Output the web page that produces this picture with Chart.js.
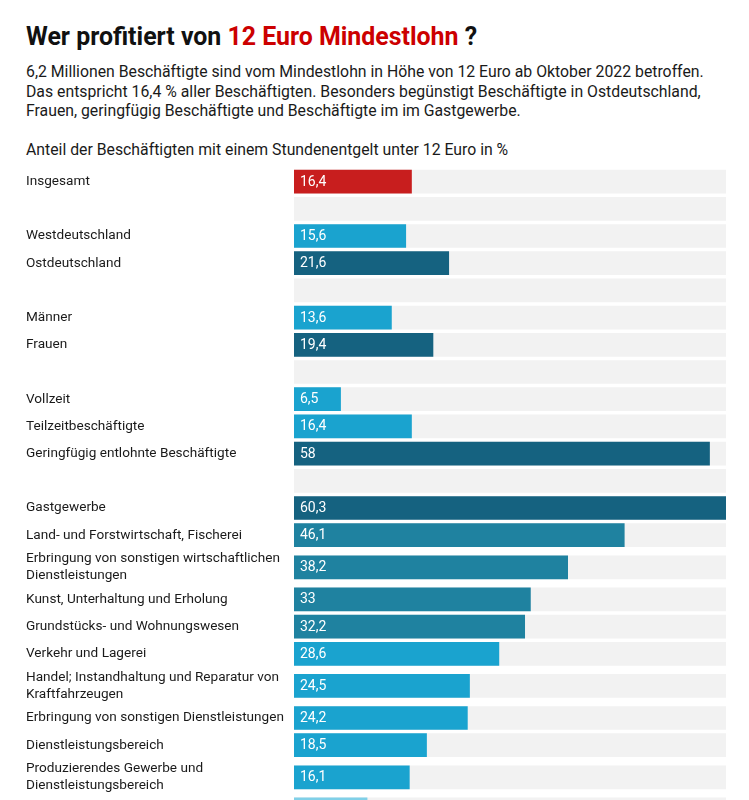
<!DOCTYPE html>
<html lang="de">
<head>
<meta charset="utf-8">
<script src="https://cdn.jsdelivr.net/npm/chart.js@4/dist/chart.umd.min.js"></script>
<style>
  html, body { margin: 0; padding: 0; background: #fff; overflow: hidden; }
  body { width: 749px; height: 800px; position: relative; font-family: Roboto, "Noto Sans", sans-serif; color: #1a1a1a; }
  #title { position: absolute; left: 26px; top: 23px; font-size: 24.9px; line-height: 28px; font-weight: 700; color: #111; white-space: nowrap; }
  #title .red { color: #cc0000; }
  #sub { position: absolute; left: 26px; top: 62px; width: 715px; font-size: 15.8px; line-height: 19.5px; color: #1a1a1a; }
  #axis { position: absolute; left: 26px; top: 140px; font-size: 15.8px; line-height: 20px; color: #1a1a1a; white-space: nowrap; }
  #wrap { position: absolute; left: 26px; top: 168px; width: 700px; }
</style>
</head>
<body>
<div id="title">Wer profitiert von <span class="red">12 Euro Mindestlohn</span> ?</div>
<div id="sub">6,2 Millionen Beschäftigte sind vom Mindestlohn in Höhe von 12 Euro ab Oktober 2022 betroffen.<br>Das entspricht 16,4 % aller Beschäftigten. Besonders begünstigt Beschäftigte in Ostdeutschland,<br>Frauen, geringfügig Beschäftigte und Beschäftigte im im Gastgewerbe.</div>
<div id="axis">Anteil der Beschäftigten mit einem Stundenentgelt unter 12 Euro in %</div>
<div id="wrap"><canvas id="c"></canvas></div>
<script>
// ---- data ----
const categories = [
  "Insgesamt",
  "",
  "Westdeutschland",
  "Ostdeutschland",
  "",
  "Männer",
  "Frauen",
  "",
  "Vollzeit",
  "Teilzeitbeschäftigte",
  "Geringfügig entlohnte Beschäftigte",
  "",
  "Gastgewerbe",
  "Land- und Forstwirtschaft, Fischerei",
  ["Erbringung von sonstigen wirtschaftlichen", "Dienstleistungen"],
  "Kunst, Unterhaltung und Erholung",
  "Grundstücks- und Wohnungswesen",
  "Verkehr und Lagerei",
  ["Handel; Instandhaltung und Reparatur von", "Kraftfahrzeugen"],
  "Erbringung von sonstigen Dienstleistungen",
  "Dienstleistungsbereich",
  ["Produzierendes Gewerbe und", "Dienstleistungsbereich"],
  "Produzierendes Gewerbe"
];
const values = [
  16.4, null, 15.6, 21.6, null, 13.6, 19.4, null, 6.5, 16.4, 58, null,
  60.3, 46.1, 38.2, 33, 32.2, 28.6, 24.5, 24.2, 18.5, 16.1, 10.2
];
const scaleMax = 60.3;

// ---- styles ----
const RED = "#c81e1e", LIGHT = "#1aa3cf", DARK = "#156280", MID = "#1f82a0", PALE = "#80d0e8";
const barColors = [
  RED, null, LIGHT, DARK, null, LIGHT, DARK, null, LIGHT, LIGHT, DARK, null,
  DARK, MID, MID, MID, MID, LIGHT, LIGHT, LIGHT, LIGHT, LIGHT, PALE
];
const trackColor = "#f2f2f2";

// row layout: taller rows for two-line labels
const ROW1 = 27.2, ROW2 = 37.0;
const rowH = categories.map(l => Array.isArray(l) ? ROW2 : ROW1);
const centers = [];
let acc = 0;
rowH.forEach((h, i) => { centers.push(acc + h / 2); acc += h; });
const total = acc;

document.getElementById('wrap').style.height = total + 'px';

const fmt = v => String(v).replace('.', ',');

const valueLabels = {
  id: 'valueLabels',
  afterDatasetsDraw(chart) {
    const meta = chart.getDatasetMeta(1);
    const ctx = chart.ctx;
    ctx.save();
    ctx.font = '14px Roboto, "Noto Sans", sans-serif';
    ctx.fillStyle = '#fff';
    ctx.textBaseline = 'middle';
    ctx.textAlign = 'left';
    meta.data.forEach((el, i) => {
      const v = values[i];
      if (v === null || v === undefined) return;
      const left = Math.min(el.base, el.x);
      ctx.fillText(fmt(v), left + 6, el.y + 0.5);
    });
    ctx.restore();
  }
};

new Chart(document.getElementById('c'), {
  type: 'bar',
  data: {
    datasets: [
      {
        label: 'track',
        data: centers.map(c => ({ x: scaleMax, y: c })),
        backgroundColor: trackColor,
        grouped: false,
        order: 2,
        barThickness: 23
      },
      {
        label: 'Anteil',
        data: values.map((v, i) => ({ x: v, y: centers[i] })),
        backgroundColor: barColors.map(c => c || 'rgba(0,0,0,0)'),
        grouped: false,
        order: 1,
        barThickness: 23
      }
    ]
  },
  options: {
    indexAxis: 'y',
    responsive: true,
    maintainAspectRatio: false,
    animation: false,
    layout: { padding: 0 },
    plugins: { legend: { display: false }, tooltip: { enabled: false } },
    scales: {
      x: {
        type: 'linear', min: 0, max: scaleMax, display: false
      },
      y: {
        type: 'linear', min: 0, max: total, reverse: true, offset: false,
        grid: { display: false }, border: { display: false },
        afterBuildTicks: s => { s.ticks = centers.map(v => ({ value: v })); },
        afterFit: s => { s.width = 268; s.paddingTop = 0; s.paddingBottom = 0; },
        ticks: {
          autoSkip: false,
          crossAlign: 'far',
          padding: 0,
          color: '#1a1a1a',
          font: { family: 'Roboto, "Noto Sans", sans-serif', size: 13.6, lineHeight: 1.22 },
          callback: (value, index) => categories[index]
        }
      }
    }
  },
  plugins: [valueLabels]
});
</script>
</body>
</html>
